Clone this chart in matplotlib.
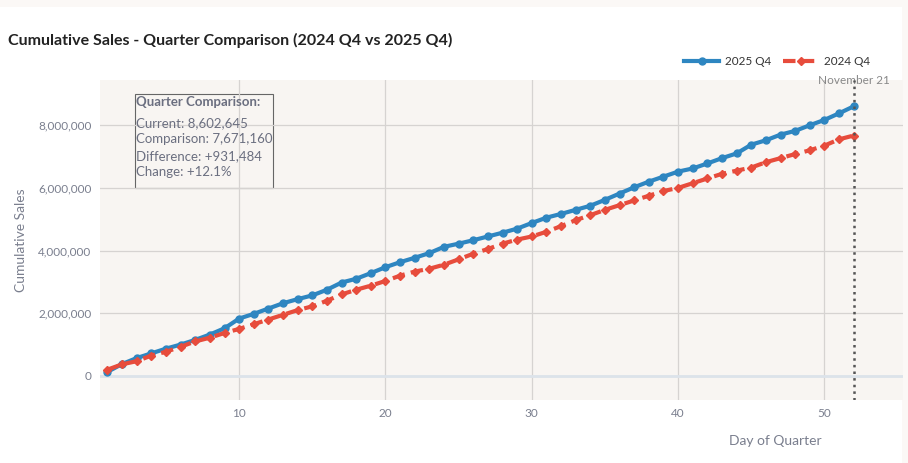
import matplotlib
matplotlib.use("Agg")
import matplotlib.pyplot as plt
from matplotlib.ticker import FuncFormatter
from matplotlib.patches import Rectangle

plt.rcParams['font.family'] = ['Lato', 'DejaVu Sans']

days = list(range(1, 53))
cur = [0.13,0.38,0.57,0.72,0.87,1.0,1.15,1.32,1.52,1.83,1.98,2.15,2.32,2.45,2.57,2.75,2.98,3.1,3.28,3.47,
       3.63,3.77,3.92,4.12,4.22,4.33,4.45,4.57,4.7,4.88,5.05,5.17,5.3,5.43,5.62,5.82,6.02,6.2,6.36,6.52,
       6.62,6.78,6.95,7.1,7.38,7.52,7.7,7.82,8.0,8.17,8.38,8.602645]
prev = [0.2,0.37,0.47,0.65,0.77,0.93,1.1,1.22,1.37,1.5,1.65,1.8,1.95,2.1,2.22,2.4,2.6,2.75,2.88,3.03,
        3.2,3.33,3.42,3.55,3.72,3.9,4.05,4.22,4.35,4.45,4.6,4.78,4.97,5.13,5.3,5.45,5.6,5.75,5.9,6.0,
        6.15,6.3,6.45,6.55,6.65,6.82,6.95,7.08,7.2,7.35,7.55,7.67116]
cur = [v*1e6 for v in cur]
prev = [v*1e6 for v in prev]
title = "Cumulative Sales - Quarter Comparison (2024 Q4 vs 2025 Q4)"
box_lines = ["Current: 8,602,645", "Comparison: 7,671,160", "Difference: +931,484", "Change: +12.1%"]

fig = plt.figure(figsize=(9.08, 4.63), dpi=100, facecolor='#fbf8f6')
card = fig.add_axes([0.0, 0.0, 0.993, 0.985])
card.set_facecolor('white'); card.set_xticks([]); card.set_yticks([])
for s in card.spines.values(): s.set_visible(False)

ax = fig.add_axes([0.110, 0.136, 0.885, 0.691])
ax.set_facecolor('#f8f5f2')
for s in ax.spines.values(): s.set_visible(False)
ax.grid(True, color='#d6d3d1', lw=0.9)
ax.set_axisbelow(True)
ax.axhline(0, color='#dce3ea', lw=2, zorder=1)
ax.plot(days, cur, color='#2e86c1', lw=3, marker='o', ms=5, label='2025 Q4', zorder=3)
ax.plot(days, prev, color='#e74c3c', lw=3, ls=(0, (3, 1.5)), marker='D', ms=4, label='2024 Q4', zorder=3)
ax.axvline(52, color='#555555', ls=':', lw=1.8, zorder=4)
ax.text(52, 9.44e6, 'November 21', color='#888', fontsize=8.5, ha='center', va='center')
ax.set_xlim(0.48, 55.4)
ax.set_ylim(-0.77e6, 9.44e6)
ax.set_xticks([10, 20, 30, 40, 50])
ax.set_yticks([0, 2e6, 4e6, 6e6, 8e6])
ax.yaxis.set_major_formatter(FuncFormatter(lambda v, p: f"{int(v):,}"))
ax.tick_params(length=0, colors='#7a7f8e', labelsize=8.5, pad=6)
ax.set_ylabel('Cumulative Sales', color='#7a7f8e', fontsize=10, labelpad=8)
ax.set_xlabel('Day of Quarter', color='#7a7f8e', fontsize=10)
ax.xaxis.set_label_coords(0.84, -0.11)
ax.legend(loc='lower right', bbox_to_anchor=(0.965, 1.025), ncol=2, frameon=False,
          fontsize=8.5, handlelength=3, columnspacing=1.0, borderaxespad=0, handletextpad=0.5,
          labelcolor='#333')

ax.text(0.045, 0.95, "Quarter Comparison:", transform=ax.transAxes, fontsize=9.5,
        fontweight='bold', color='#6b6f80', va='top')
ax.text(0.045, 0.885, "\n".join(box_lines), transform=ax.transAxes, fontsize=9.5,
        color='#6b6f80', va='top', linespacing=1.45)
ax.add_patch(Rectangle((0.044, 0.6625), 0.172, 0.2935, transform=ax.transAxes, facecolor='#f8f5f2',
                       edgecolor='#666', lw=0.8, zorder=0.5))

fig.text(0.009, 0.902, title, fontsize=11.5, fontweight='bold', color='#222')
fig.savefig('out.png', dpi=100, facecolor=fig.get_facecolor())
